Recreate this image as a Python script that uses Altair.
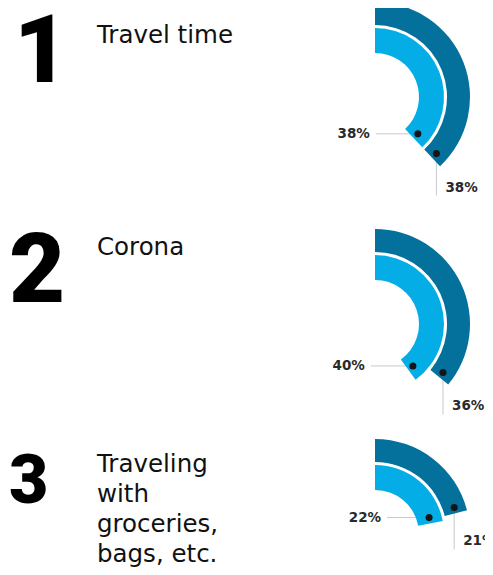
import altair as alt
import pandas as pd

# ---- data ----
ranks = ["1", "2", "3"]
reasons = [["Travel time"], ["Corona"], ["Traveling", "with", "groceries,", "bags, etc."]]
inner_pct = [38, 40, 22]
outer_pct = [38, 36, 21]

# ---- layout (page pixels) ----
W, H = 477, 559
CX = 375
center_y = [97, 324, 534]
rank_x = [14, 9, 9]
rank_base = [82, 302, 503]
rank_size = [94, 97, 68]
reason_x = 97
reason_base = [43, 255, 472]
LINE_H = 30
OUT_R = (95, 72)
IN_R = (69, 44)
DOT_BACK = 6
DARK = "#04709c"
LIGHT = "#05ade7"
GRAY = "#c9c9c9"
TXT = "#2a2a2a"

rows = []
for i in range(len(ranks)):
    rows.append(dict(row=i, ring="outer", cx=CX, cy=center_y[i], start=0,
                     value=outer_pct[i], rmid=(OUT_R[0] + OUT_R[1]) / 2))
    rows.append(dict(row=i, ring="inner", cx=CX, cy=center_y[i], start=0,
                     value=inner_pct[i], rmid=(IN_R[0] + IN_R[1]) / 2))
arcs = pd.DataFrame(rows)

rank_df = pd.DataFrame(dict(t=ranks, x=rank_x, y=rank_base, fs=rank_size))
rl = []
for i, lines in enumerate(reasons):
    for j, line in enumerate(lines):
        rl.append(dict(t=line, x=reason_x, y=reason_base[i] + j * LINE_H))
reason_df = pd.DataFrame(rl)

xs = alt.Scale(domain=[8, 8 + W], nice=False, zero=False)
ys = alt.Scale(domain=[8, 8 + H], nice=False, zero=False, reverse=True)
ts = alt.Scale(domain=[0, 100], range=[0, 6.283185307])


def X(f):
    return alt.X(f + ":Q", scale=xs, axis=None)


def Y(f):
    return alt.Y(f + ":Q", scale=ys, axis=None)


base = alt.Chart(arcs).transform_calculate(
    ang=f"datum.value / 100 * 2 * PI - {DOT_BACK} / datum.rmid"
).transform_calculate(
    dx="datum.cx + datum.rmid * sin(datum.ang)"
).transform_calculate(
    dy="datum.cy - datum.rmid * cos(datum.ang)"
).transform_calculate(
    lab="datum.value + '%'"
)
inner = base.transform_filter("datum.ring == 'inner'")
outer = base.transform_filter("datum.ring == 'outer'")

inner_rule = inner.transform_calculate(lx="datum.dx - 42").mark_rule(
    color=GRAY, strokeWidth=1).encode(x=X("lx"), x2="dx:Q", y=Y("dy"))
outer_rule = outer.transform_calculate(ly="datum.dy + 42").mark_rule(
    color=GRAY, strokeWidth=1).encode(x=X("dx"), y=Y("dy"), y2="ly:Q")

outer_arc = outer.mark_arc(color=DARK, radius=OUT_R[0], radius2=OUT_R[1]).encode(
    x=X("cx"), y=Y("cy"),
    theta=alt.Theta("start:Q", scale=ts, stack=None), theta2="value:Q")
inner_arc = inner.mark_arc(color=LIGHT, radius=IN_R[0], radius2=IN_R[1]).encode(
    x=X("cx"), y=Y("cy"),
    theta=alt.Theta("start:Q", scale=ts, stack=None), theta2="value:Q")

dots = base.mark_circle(size=50, color="#151515", opacity=1).encode(
    x=X("dx"), y=Y("dy"))

inner_lab = inner.transform_calculate(tx="datum.dx - 48").mark_text(
    align="right", baseline="middle", font="DejaVu Sans", fontWeight="bold",
    fontSize=13.5, color=TXT).encode(x=X("tx"), y=Y("dy"), text="lab:N")
outer_lab = outer.transform_calculate(tx="datum.dx + 9", ty="datum.dy + 34").mark_text(
    align="left", baseline="middle", font="DejaVu Sans", fontWeight="bold",
    fontSize=13.5, color=TXT).encode(x=X("tx"), y=Y("ty"), text="lab:N")

rank_text = alt.Chart(rank_df).mark_text(
    align="left", baseline="alphabetic", font="Roboto", fontWeight=900,
    color="#000000").encode(x=X("x"), y=Y("y"), text="t:N",
                             size=alt.Size("fs:Q", scale=None, legend=None))
reason_text = alt.Chart(reason_df).mark_text(
    align="left", baseline="alphabetic", font="DejaVu Sans", fontSize=24.5,
    color="#111111").encode(x=X("x"), y=Y("y"), text="t:N")

chart = alt.layer(
    inner_rule, outer_rule, outer_arc, inner_arc, dots,
    inner_lab, outer_lab, rank_text, reason_text
).properties(
    width=W, height=H, autosize="none", padding=0, background="white"
).configure_view(stroke=None)

chart.save("out.html", embed_options={"renderer": "svg", "actions": False})
